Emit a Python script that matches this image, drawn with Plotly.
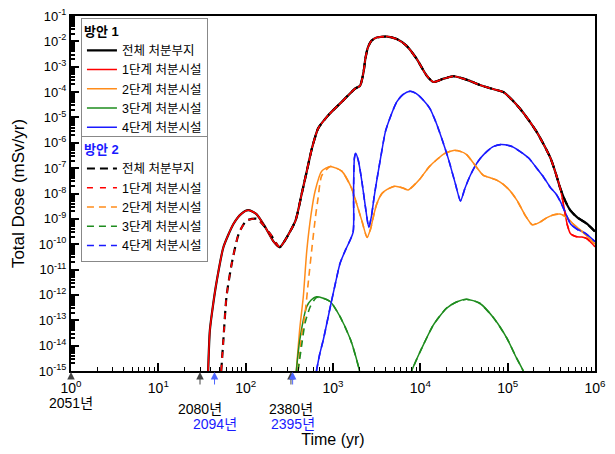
import math
import plotly.graph_objects as go

FONT = "Liberation Sans, Arial, Noto Sans CJK KR, sans-serif"

# ---------------- data (time after 2050 in yr, dose in mSv/yr) ----------------
# Plan 1 total / stage-1 common part
t_main = [37.2, 38.9, 42.7, 46.8, 55.6, 72.4, 89.1, 107, 132, 166, 209, 245, 282, 372, 437,
          501, 575, 676, 891, 1259, 1778, 2042, 2239, 2344, 2512, 2754, 3162, 4169, 5370,
          6918, 9120, 11749, 14125, 18197, 23988, 35481, 48978, 63096, 89125, 1.12e5, 1.38e5,
          1.74e5, 2.14e5, 2.57e5, 3.09e5, 3.55e5, 3.98e5]
d_main = [1e-15, 3.98e-14, 5.0e-13, 3.8e-12, 7.6e-11, 6.3e-10, 1.58e-9, 2.19e-9, 1.58e-9,
          5.0e-10, 1.26e-10, 7.6e-11, 1.41e-10, 8.5e-10, 9.3e-9, 7.6e-8, 6.2e-7, 3.7e-6,
          1.26e-5, 4.1e-5, 1.35e-4, 1.78e-4, 6.2e-4, 2.0e-3, 5.75e-3, 1.05e-2, 1.41e-2,
          1.55e-2, 1.23e-2, 6.8e-3, 2.0e-3, 4.57e-4, 2.5e-4, 3.3e-4, 4.2e-4, 2.9e-4, 1.86e-4,
          1.41e-4, 1.0e-4, 5.0e-5, 2.24e-5, 7.9e-6, 2.75e-6, 8.9e-7, 2.5e-7, 6.3e-8, 1.7e-8]

# tails where total and stage 1 separate
t_total_tail = [4.57e5, 5.25e5, 6.31e5, 8.13e5, 1e6]
d_total_tail = [5.0e-9, 2.1e-9, 1.12e-9, 6.3e-10, 3.16e-10]
t_s1_tail = [4.37e5, 4.79e5, 5.25e5, 6.03e5, 7.08e5, 8.13e5, 9.12e5, 1e6]
d_s1_tail = [3.55e-9, 6.3e-10, 2.57e-10, 2.0e-10, 1.91e-10, 1.62e-10, 1.12e-10, 7.9e-11]

# Plan 2 total / stage-1 early part (later part follows plan 1)
t_p2_early = [52.5, 55.6, 60.3, 69.2, 83.2, 102, 135, 191, 245]
d_p2_early = [1e-15, 1.74e-14, 8.5e-13, 1.7e-11, 2.57e-10, 8.5e-10, 1.0e-9, 2.57e-10, 7.6e-11]

# Stage 2 (plan 1)
t_s2 = [380, 417, 457, 501, 562, 624, 741, 933, 1259, 1622, 1862, 2138, 2455, 2692, 2951,
        3162, 3631, 4169, 5129, 6310, 7244, 8318, 9772, 12589, 15488, 19055, 23988, 28840,
        33884, 44668, 52481, 63096, 75858, 89125, 1.07e5, 1.29e5, 1.58e5, 1.91e5, 2.29e5,
        2.82e5, 3.39e5, 3.98e5, 4.79e5, 5.62e5, 7.41e5, 1e6]
d_s2 = [1e-15, 5.0e-14, 8.5e-13, 5.6e-11, 1.58e-9, 1.26e-8, 7.6e-8, 1.17e-7, 7.6e-8, 1.7e-8,
        4.0e-9, 8.5e-10, 1.86e-10, 4.0e-10, 1.58e-9, 3.8e-9, 1.0e-8, 1.45e-8, 1.95e-8,
        1.66e-8, 1.38e-8, 2.0e-8, 3.55e-8, 1.12e-7, 2.19e-7, 3.8e-7, 5.0e-7, 4.57e-7,
        3.4e-7, 1.02e-7, 5.25e-8, 4.17e-8, 3.3e-8, 2.29e-8, 1.26e-8, 5.1e-9, 1.41e-9,
        5.9e-10, 7.1e-10, 1.12e-9, 1.45e-9, 1.55e-9, 1.12e-9, 6.3e-10, 2.8e-10, 1.0e-10]
t_s2_p2_early = [398, 437, 479, 525, 575, 631, 676, 741]
d_s2_p2_early = [1e-15, 2.5e-14, 1.9e-13, 4.0e-12, 7.6e-11, 1.26e-9, 6.9e-9, 5.0e-8]

# Stage 3 (plan 1) - two humps
t_s3 = [380, 417, 501, 562, 646, 759, 933, 1202, 1585, 1950, 2042, None,
        7586, 7943, 10000, 14125, 19953, 26303, 33884, 47863, 69183, 97724, 1.26e5, 1.51e5, 1.58e5]
d_s3 = [1e-15, 1.74e-14, 3.5e-13, 6.3e-13, 8.5e-13, 7.6e-13, 5.4e-13, 1.41e-13, 1.74e-14,
        1.58e-15, 7.9e-16, None,
        6.3e-16, 1e-15, 6.0e-15, 6.6e-14, 3.0e-13, 5.4e-13, 6.8e-13, 4.7e-13, 1.23e-13,
        2.0e-14, 3.3e-15, 1e-15, 6.3e-16]
t_s3_p2_early = [398, 437, 479, 550, 646]
d_s3_p2_early = [1e-15, 1e-14, 7.9e-14, 3.5e-13, 7.9e-13]

# Stage 4
t_s4 = [646, 708, 776, 933, 1072, 1202, 1380, 1698, 1718, 1758, 1820, 1950, 2138, 2344, 2570,
        2754, 2951, 3162, 3548, 3981, 4571, 5370, 6310, 7586, 8913, 10715, 12882, 15136,
        17783, 19953, 21878, 25119, 28840, 32359, 37154, 42658, 48978, 57544, 69183, 83176,
        93325, 1.12e5, 1.38e5, 1.74e5, 2.14e5, 2.57e5, 3.09e5, 3.55e5, 3.98e5, 4.57e5,
        5.25e5, 6.31e5, 7.41e5, 8.51e5, 1e6]
d_s4 = [1e-15, 5.0e-15, 1.74e-14, 3.5e-13, 3.16e-12, 1.74e-11, 5.6e-11, 2.95e-10, 1.0e-8,
        2.5e-7, 3.9e-7, 2.0e-7, 3.1e-8, 3.16e-9, 4.57e-10, 1.26e-9, 6.9e-9, 3.1e-8, 3.16e-7,
        2.75e-6, 1.12e-5, 4.1e-5, 7.9e-5, 1.07e-4, 8.9e-5, 5.0e-5, 2.24e-5, 6.3e-6, 1.32e-6,
        4.0e-7, 1.38e-7, 2.5e-8, 5.1e-9, 1.58e-8, 5.0e-8, 1.26e-7, 2.5e-7, 4.5e-7, 7.2e-7,
        8.5e-7, 8.3e-7, 7.1e-7, 4.57e-7, 2.5e-7, 1.02e-7, 4.5e-8, 1.7e-8, 1.0e-8, 5.1e-9,
        1.78e-9, 6.3e-10, 3.8e-10, 2.95e-10, 2.1e-10, 1.26e-10]

# Event markers (calendar years) and axis ticks
base_year = 2050
events_plan1 = [2051, 2080, 2380]
events_plan2 = [2094, 2395]
x_tick_exp = [0, 1, 2, 3, 4, 5, 6]
y_tick_exp = [-1, -2, -3, -4, -5, -6, -7, -8, -9, -10, -11, -12, -13, -14, -15]

names = ["전체 처분부지", "1단계 처분시설", "2단계 처분시설", "3단계 처분시설", "4단계 처분시설"]
colors = ["#000000", "#ff0000", "#ff8c1a", "#1e8c1e", "#1a1aff"]

# ---------------- assemble series ----------------
t_total1 = t_main + t_total_tail
d_total1 = d_main + d_total_tail
t_s1 = t_main + t_s1_tail
d_s1 = d_main + d_s1_tail


def join_after(t_early, d_early, t_full, d_full):
    last = t_early[-1]
    tt = [t for t in t_full if t is None or t > last]
    dd = [d for t, d in zip(t_full, d_full) if t is None or t > last]
    while tt and tt[0] is None:
        tt.pop(0); dd.pop(0)
    return t_early + tt, d_early + dd


t_total2, d_total2 = join_after(t_p2_early, d_p2_early, t_total1, d_total1)
t_s1_2, d_s1_2 = join_after(t_p2_early, d_p2_early, t_s1, d_s1)
t_s2_2, d_s2_2 = join_after(t_s2_p2_early, d_s2_p2_early, t_s2, d_s2)
t_s3_2, d_s3_2 = join_after(t_s3_p2_early, d_s3_p2_early, t_s3, d_s3)
t_s4_2, d_s4_2 = list(t_s4), list(d_s4)

plan1 = [(t_total1, d_total1), (t_s1, d_s1), (t_s2, d_s2), (t_s3, d_s3), (t_s4, d_s4)]
plan2 = [(t_total2, d_total2), (t_s1_2, d_s1_2), (t_s2_2, d_s2_2), (t_s3_2, d_s3_2), (t_s4_2, d_s4_2)]

fig = go.Figure()
for i, (tt, dd) in enumerate(plan1):
    fig.add_trace(go.Scatter(x=tt, y=dd, mode="lines", name=names[i], legend="legend",
                             line=dict(color=colors[i], width=2.2 if i == 0 else 1.5,
                                       shape="spline", smoothing=0.6),
                             connectgaps=False))
dashes = ["8px,5px", "6px,7px", "7px,5px", "7px,5px", "7px,5px"]
for i, (tt, dd) in enumerate(plan2):
    fig.add_trace(go.Scatter(x=tt, y=dd, mode="lines", name=names[i], legend="legend2",
                             line=dict(color=colors[i], width=2.2 if i == 0 else 1.6,
                                       dash=dashes[i], shape="spline", smoothing=0.6),
                             connectgaps=False))

# ---------------- event arrows and labels ----------------
annos = []
label_shift = {2051: -32, 2080: -38, 2380: -38, 2094: -53, 2395: -53}
for yr_list, col, acol in [(events_plan1, "#000000", "#444444"), (events_plan2, "#1a1aff", "#4d66ff")]:
    for yr in yr_list:
        xv = math.log10(yr - base_year)
        annos.append(dict(x=xv, y=0, xref="x", yref="paper", text="", showarrow=True,
                          ax=0, ay=8 if yr == 2051 else 15, arrowhead=2, arrowsize=1.5,
                          arrowwidth=1, arrowcolor=acol, standoff=1))
        annos.append(dict(x=xv, y=0, xref="x", yref="paper", text=f"{yr}년", showarrow=False,
                          yanchor="middle", yshift=label_shift[yr],
                          font=dict(size=14, color=col, family=FONT)))

# the page body adds an 8 px offset, so the figure is 8 px smaller than the window
fig.update_layout(
    width=607, height=446,
    margin=dict(l=63, r=20, t=8, b=83, autoexpand=False),
    paper_bgcolor="white", plot_bgcolor="white",
    font=dict(family=FONT, color="black"),
    annotations=annos,
    legend=dict(x=0.019, y=0.995, xanchor="left", yanchor="top", bgcolor="white",
                bordercolor="#888888", borderwidth=1, itemwidth=30, tracegroupgap=0,
                font=dict(size=12.5, family=FONT),
                title=dict(text="방안 1", font=dict(size=13, family=FONT, color="black", weight="bold"))),
    legend2=dict(x=0.019, y=0.662, xanchor="left", yanchor="top", bgcolor="white",
                 bordercolor="#888888", borderwidth=1, itemwidth=30, tracegroupgap=0,
                 font=dict(size=12.5, family=FONT),
                 title=dict(text="방안 2", font=dict(size=13, family=FONT, color="#1a1aff", weight="bold"))),
)

minor_x = [k * 10 ** e for e in range(0, 6) for k in range(2, 10)]
minor_y = [k * 10.0 ** e for e in range(-15, -1) for k in range(2, 10)]

fig.update_xaxes(type="log", range=[0, 6], showgrid=False, zeroline=False, automargin=False,
                 showline=True, linecolor="black", linewidth=2, mirror=True,
                 ticks="inside", ticklen=8, tickwidth=1.5, tickcolor="black",
                 tickmode="array", tickvals=[10 ** e for e in x_tick_exp],
                 ticktext=[f"10<sup>{e}</sup>" for e in x_tick_exp],
                 tickfont=dict(size=14, family=FONT), ticklabelstandoff=3,
                 ticklabeloverflow="allow",
                 minor=dict(ticks="inside", ticklen=4, tickwidth=1.2, tickcolor="black",
                            tickmode="array", tickvals=minor_x, showgrid=False),
                 title=dict(text="Time (yr)", font=dict(size=16, family=FONT), standoff=39))
fig.update_yaxes(type="log", range=[-15, -1], showgrid=False, zeroline=False, automargin=False,
                 showline=True, linecolor="black", linewidth=2, mirror=True,
                 ticks="inside", ticklen=8, tickwidth=2, tickcolor="black",
                 tickmode="array", tickvals=[10.0 ** e for e in y_tick_exp],
                 ticktext=[f"10<sup>{e}</sup>" for e in y_tick_exp],
                 tickfont=dict(size=13, family=FONT), ticklabeloverflow="allow",
                 minor=dict(ticks="inside", ticklen=4, tickwidth=1.5, tickcolor="black",
                            tickmode="array", tickvals=minor_y, showgrid=False),
                 title=dict(text="Total Dose (mSv/yr)", font=dict(size=17, family=FONT), standoff=10))

fig.write_html("out.html")
